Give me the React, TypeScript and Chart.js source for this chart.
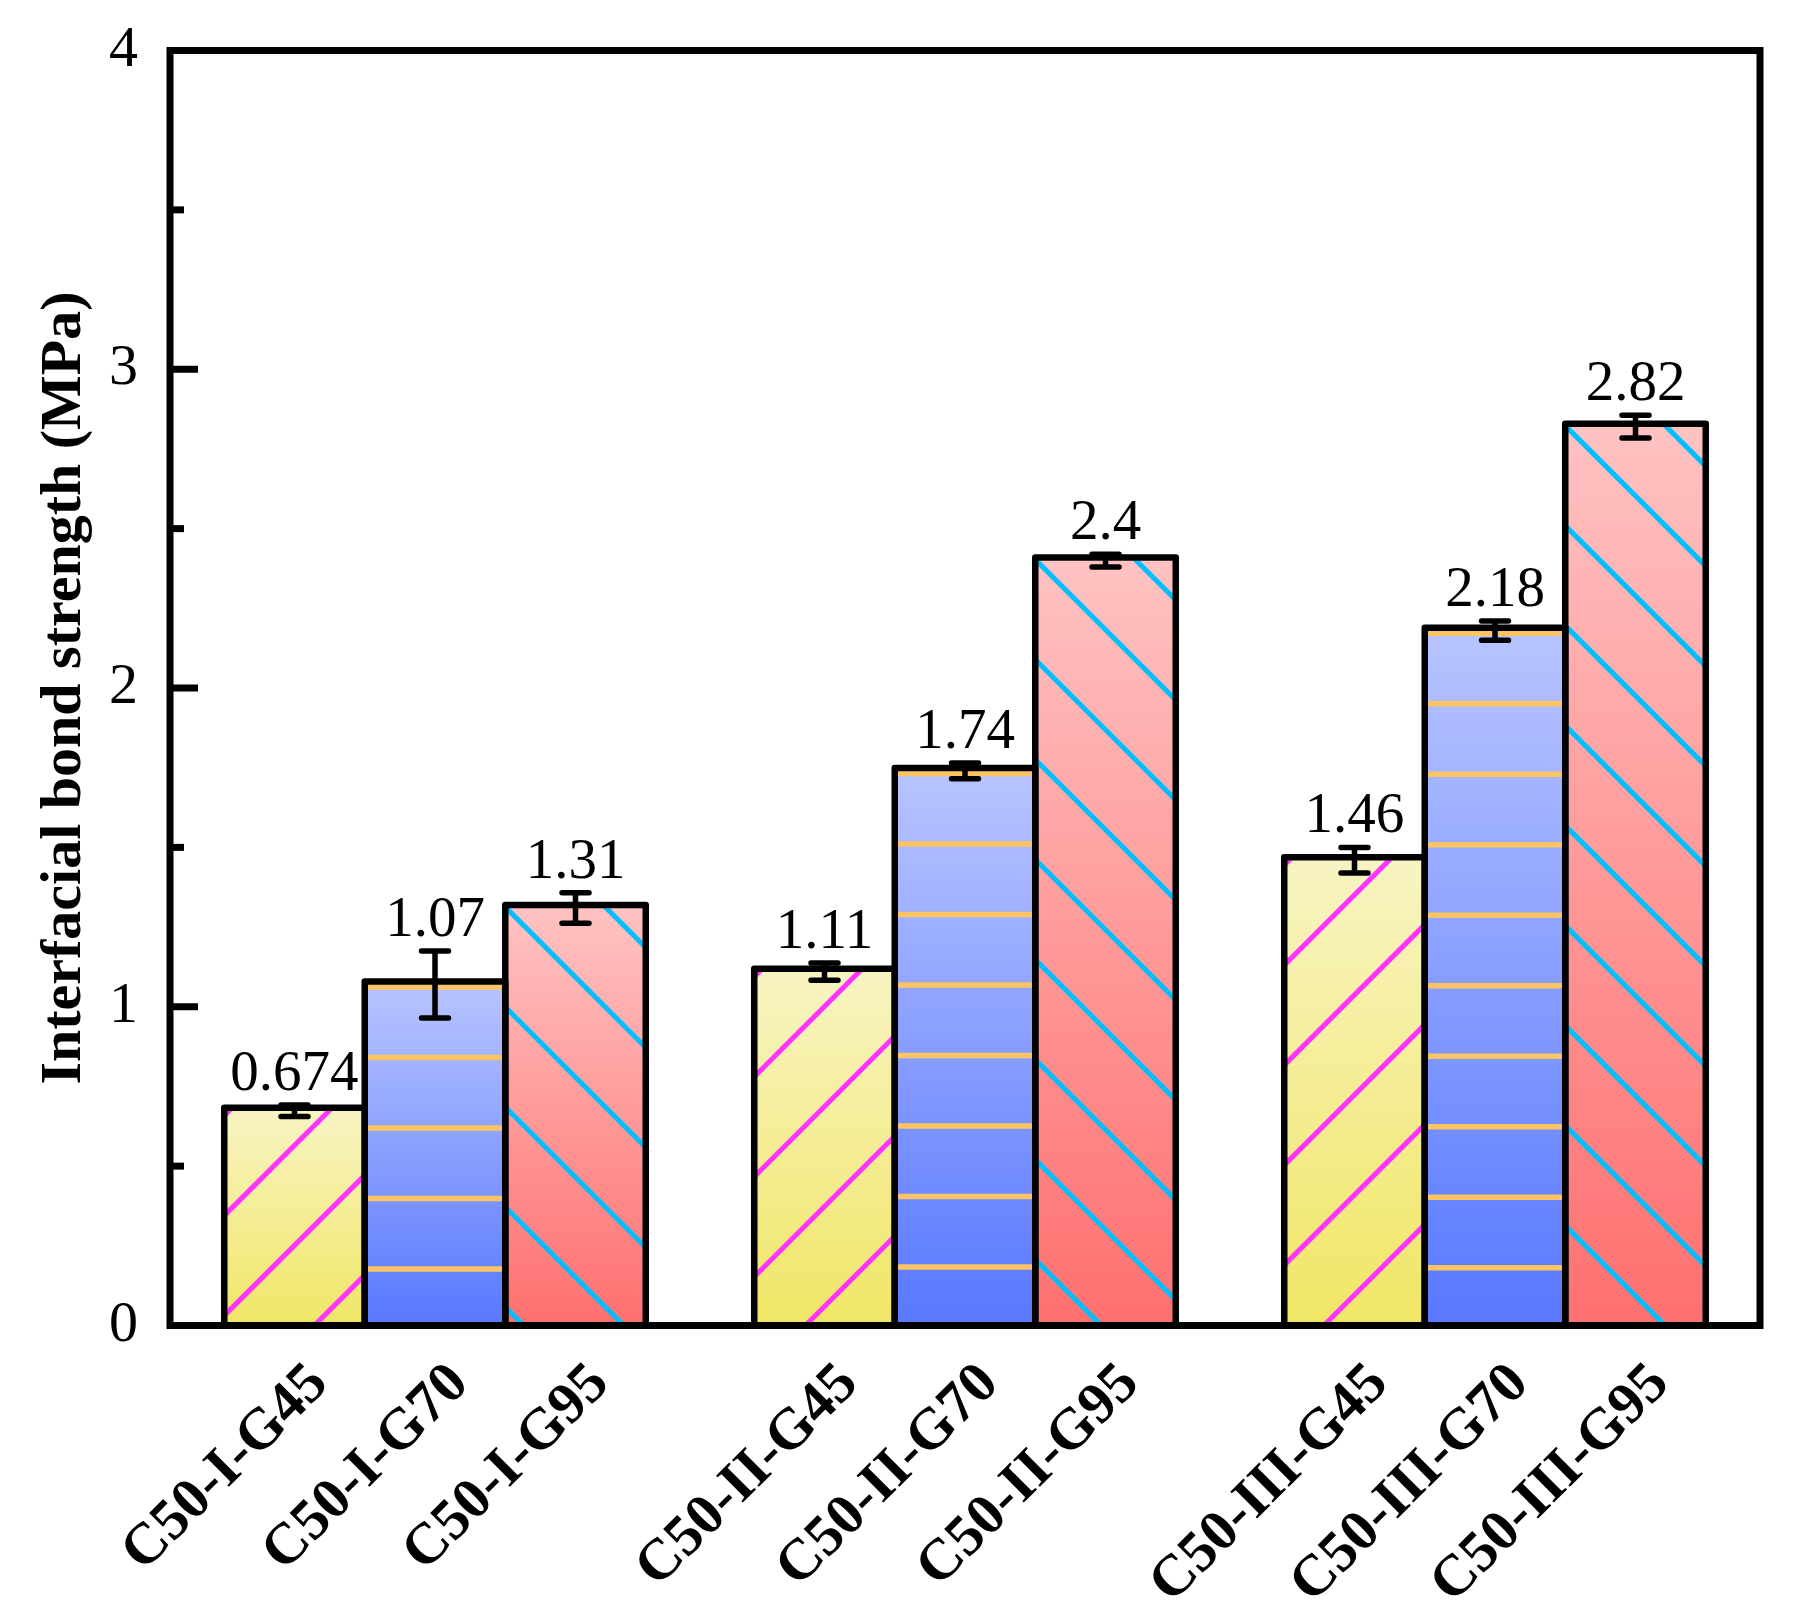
import React, { useEffect, useRef } from "react";
import { Chart, registerables } from "chart.js";

Chart.register(...registerables);

// ---------- data ----------
const groups = ["C50-I", "C50-II", "C50-III"];
const series = ["G45", "G70", "G95"];
const g45Values = [0.674, 1.11, 1.46];
const g70Values = [1.07, 1.74, 2.18];
const g95Values = [1.31, 2.4, 2.82];
const g45Errors = [0.018, 0.027, 0.04];
const g70Errors = [0.105, 0.025, 0.03];
const g95Errors = [0.048, 0.02, 0.036];
const g45Labels = ["0.674", "1.11", "1.46"];
const g70Labels = ["1.07", "1.74", "2.18"];
const g95Labels = ["1.31", "2.4", "2.82"];
const yMajorTicks = [0, 1, 2, 3, 4];
const yMinorTicks = [0.5, 1.5, 2.5, 3.5];
const yTitle = "Interfacial bond strength (MPa)";

const values = [g45Values, g70Values, g95Values];
const errors = [g45Errors, g70Errors, g95Errors];
const valueLabels = [g45Labels, g70Labels, g95Labels];

// ---------- styles ----------
const FONT = '"Liberation Serif", "Times New Roman", Times, serif';
const gradTop = ["#F8F4C2", "#B8C4FF", "#FFC2C2"];
const gradBottom = ["#F0E666", "#5878FF", "#FF7070"];
const hatchColor = ["#FF33FF", "#FCC463", "#00BFFF"];

const decorPlugin = {
  id: "decor",
  afterDatasetsDraw(chart: any) {
    const { ctx, chartArea: ca, scales } = chart;
    const ys = scales.y;
    const base = ys.getPixelForValue(0);

    const bars: any[] = [];
    chart.data.datasets.forEach((_ds: any, i: number) => {
      const meta = chart.getDatasetMeta(i);
      meta.data.forEach((el: any, j: number) => {
        const p = el.getProps(["x", "y", "width"], true);
        bars.push({ i, j, x: p.x, top: p.y, width: p.width });
      });
    });

    // hatch
    bars.forEach(({ i, x, top, width }) => {
      const left = x - width / 2;
      const right = x + width / 2;
      ctx.save();
      ctx.beginPath();
      ctx.rect(left, top, width, base - top);
      ctx.clip();
      ctx.strokeStyle = hatchColor[i];
      ctx.lineCap = "butt";
      if (i === 1) {
        ctx.lineWidth = 5.5;
        for (let yy = top + 2.5; yy < base + 3; yy += 70.5) {
          ctx.beginPath();
          ctx.moveTo(left, yy);
          ctx.lineTo(right, yy);
          ctx.stroke();
        }
      } else if (i === 0) {
        ctx.lineWidth = 5;
        const c0 = left + 3 + top + 2;
        for (let k = -2; k < 40; k++) {
          const c = c0 + k * 100;
          if (c - right > base + 10) break;
          ctx.beginPath();
          ctx.moveTo(left - 10, c - left + 10);
          ctx.lineTo(right + 10, c - right - 10);
          ctx.stroke();
        }
      } else {
        ctx.lineWidth = 5;
        const c0 = top + 2 - (left + 3);
        for (let k = -3; k < 40; k++) {
          const c = c0 + k * 100;
          if (left + c > base + 10) break;
          ctx.beginPath();
          ctx.moveTo(left - 10, left - 10 + c);
          ctx.lineTo(right + 10, right + 10 + c);
          ctx.stroke();
        }
      }
      ctx.restore();
    });

    // outlines
    bars.forEach(({ x, top, width }) => {
      const left = x - width / 2;
      ctx.save();
      ctx.strokeStyle = "#000";
      ctx.lineWidth = 6.5;
      ctx.lineJoin = "round";
      ctx.strokeRect(left, top - 3, width, base - (top - 3));
      ctx.restore();
    });

    // frame
    ctx.save();
    ctx.strokeStyle = "#000";
    ctx.lineWidth = 7;
    ctx.lineJoin = "miter";
    ctx.strokeRect(ca.left, ca.top, ca.right - ca.left, ca.bottom - ca.top);
    // inward ticks
    ctx.lineCap = "butt";
    yMajorTicks.forEach((v) => {
      const py = ys.getPixelForValue(v);
      ctx.beginPath();
      ctx.moveTo(ca.left, py);
      ctx.lineTo(ca.left + 28, py);
      ctx.stroke();
    });
    yMinorTicks.forEach((v) => {
      const py = ys.getPixelForValue(v);
      ctx.beginPath();
      ctx.moveTo(ca.left, py);
      ctx.lineTo(ca.left + 14, py);
      ctx.stroke();
    });
    ctx.restore();

    // error bars and value labels
    bars.forEach(({ i, j, x }) => {
      const v = values[i][j];
      const e = errors[i][j];
      const yHi = ys.getPixelForValue(v + e);
      const yLo = ys.getPixelForValue(v - e);
      ctx.save();
      ctx.strokeStyle = "#000";
      ctx.lineWidth = 5.5;
      ctx.lineCap = "round";
      ctx.beginPath();
      ctx.moveTo(x, yHi);
      ctx.lineTo(x, yLo);
      ctx.moveTo(x - 13.5, yHi);
      ctx.lineTo(x + 13.5, yHi);
      ctx.moveTo(x - 13.5, yLo);
      ctx.lineTo(x + 13.5, yLo);
      ctx.stroke();
      ctx.fillStyle = "#000";
      ctx.font = `57px ${FONT}`;
      ctx.textAlign = "center";
      ctx.textBaseline = "alphabetic";
      ctx.fillText(valueLabels[i][j], x, yHi - 15);
      ctx.restore();
    });

    // rotated category labels
    bars.forEach(({ i, j, x }) => {
      const text = `${groups[j]}-${series[i]}`;
      ctx.save();
      ctx.translate(x + 25, ca.bottom + 24.5 + 25);
      ctx.rotate(-Math.PI / 4);
      ctx.fillStyle = "#000";
      ctx.font = `bold 58px ${FONT}`;
      ctx.textAlign = "right";
      ctx.textBaseline = "middle";
      ctx.fillText(text, 0, 0);
      ctx.restore();
    });
  },
};

export default function App() {
  const ref = useRef<HTMLCanvasElement | null>(null);

  useEffect(() => {
    if (!ref.current) return;
    const chart = new Chart(ref.current, {
      type: "bar",
      data: {
        labels: groups,
        datasets: series.map((s, i) => ({
          label: s,
          data: values[i],
          borderWidth: 0,
          categoryPercentage: 0.7953,
          barPercentage: 1,
          backgroundColor: (c: any) => {
            const chart = c.chart;
            if (!chart.chartArea || c.raw == null) return gradBottom[i];
            const ys = chart.scales.y;
            const top = ys.getPixelForValue(c.raw);
            const bottom = ys.getPixelForValue(0);
            const g = chart.ctx.createLinearGradient(0, top, 0, bottom);
            g.addColorStop(0, gradTop[i]);
            g.addColorStop(1, gradBottom[i]);
            return g;
          },
        })),
      },
      options: {
        animation: false,
        responsive: false,
        devicePixelRatio: 1,
        layout: { padding: { top: 50.5, right: 44, left: 0, bottom: 0 } },
        plugins: {
          legend: { display: false },
          tooltip: { enabled: false },
        },
        scales: {
          x: {
            type: "category",
            offset: true,
            grid: { display: false, drawTicks: false },
            border: { display: false },
            ticks: { display: false },
            afterFit: (s: any) => {
              s.height = 296.5;
              s.paddingLeft = 0;
              s.paddingRight = 0;
            },
          },
          y: {
            min: 0,
            max: 4,
            grid: { display: false, drawTicks: false },
            border: { display: false },
            ticks: {
              stepSize: 1,
              color: "#000",
              padding: 32,
              font: { family: FONT, size: 58 },
            },
            title: {
              display: true,
              text: yTitle,
              color: "#000",
              font: { family: FONT, size: 58, weight: "bold" },
              padding: { top: 30, bottom: 0 },
            },
            afterFit: (s: any) => {
              s.width = 170;
              s.paddingTop = 0;
              s.paddingBottom = 0;
            },
          },
        },
      } as any,
      plugins: [decorPlugin],
    });
    return () => chart.destroy();
  }, []);

  return (
    <div style={{ position: "fixed", left: 0, top: 0, width: 1804, height: 1622, background: "#fff" }}>
      <canvas ref={ref} width={1804} height={1622} style={{ display: "block" }} />
    </div>
  );
}
